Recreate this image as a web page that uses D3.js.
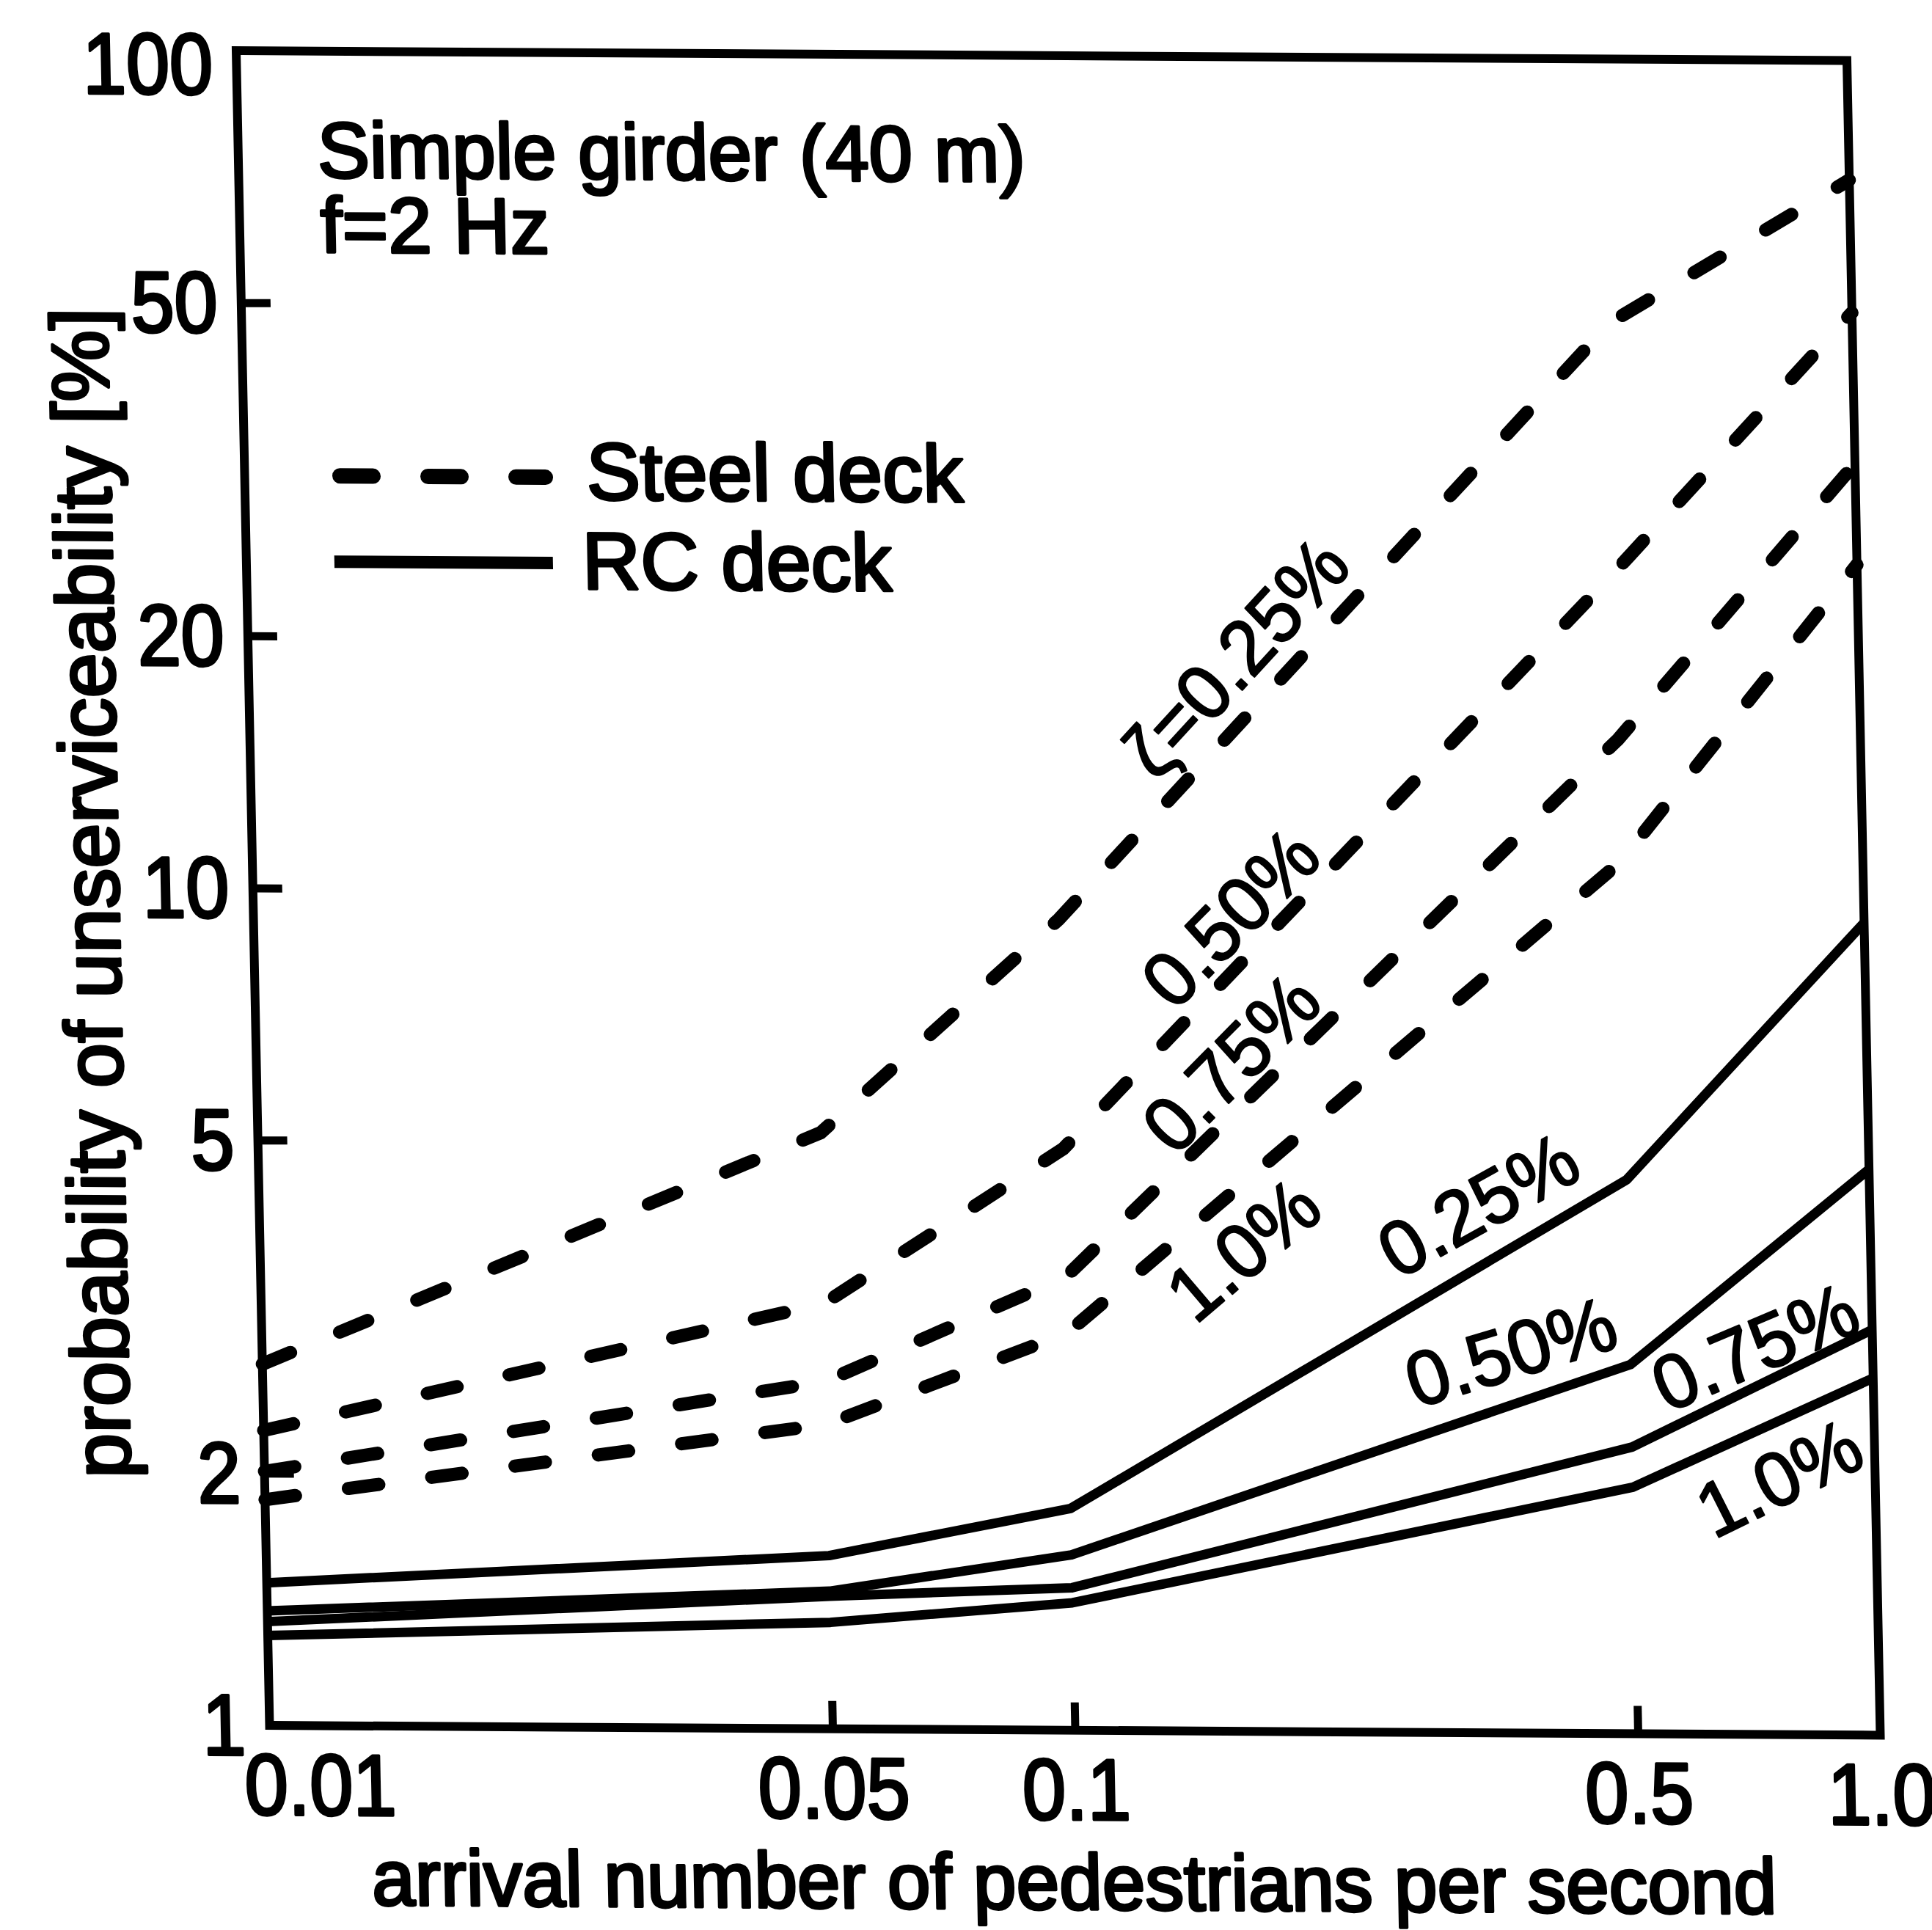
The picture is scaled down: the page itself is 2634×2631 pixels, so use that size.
<!DOCTYPE html>
<html>
<head>
<meta charset="utf-8">
<script src="https://cdn.jsdelivr.net/npm/d3@7"></script>
<style>
  html, body { margin: 0; padding: 0; background: #fff; }
  svg { display: block; }
  text { font-family: "Liberation Sans", Arial, Helvetica, sans-serif; fill: #000; }
</style>
</head>
<body>
<svg id="chart" width="2634" height="2631"></svg>
<script>
// Arrival rates (pedestrians per second) at which every curve is evaluated
const arrivalRates = [0.01, 0.05, 0.1, 0.5, 1.0];

// Probability of unserviceability [%] — steel deck, per damping ratio
const steel025 = [2.70, 5.15, 9.3, 48.4, 72];
const steel050 = [2.25, 3.22, 4.95, 24.4, 50];
const steel075 = [2.01, 2.60, 3.48, 15.4, 33];
const steel100 = [1.86, 2.31, 2.98, 11.0, 25];

// Probability of unserviceability [%] — RC deck, per damping ratio
const rc025 = [1.48, 1.61, 1.84, 4.59, 9.34];
const rc050 = [1.37, 1.46, 1.62, 2.76, 4.74];
const rc075 = [1.33, 1.44, 1.48, 2.20, 3.05];
const rc100 = [1.28, 1.34, 1.42, 1.97, 2.67];

// Axis ticks
const xTicks = [0.01, 0.05, 0.1, 0.5, 1.0];
const xTickLabels = ["0.01", "0.05", "0.1", "0.5", "1.0"];
const yTicks = [1, 2, 5, 10, 20, 50, 100];
const yTickLabels = ["1", "2", "5", "10", "20", "50", "100"];

// Curve names
const steelNames = ["\u03B6=0.25%", "0.50%", "0.75%", "1.0%"];
const rcNames = ["0.25%", "0.50%", "0.75%", "1.0%"];

// ---------------------------------------------------------------------------
const W = 2196, H = 2283;
const svg = d3.select("#chart");

// plot-local frame; the printed figure sits slightly sheared on the page
const g = svg.append("g")
  .attr("transform", "matrix(1,0.00615,0.01993,1,322,69)");

const x = d3.scaleLog().domain([0.01, 1]).range([0, W]);
const y = d3.scaleLog().domain([1, 100]).range([H, 0]);

const line = d3.line()
  .x(d => x(d[0]))
  .y(d => y(d[1]))
  .curve(d3.curveLinear);

const pairs = vals => arrivalRates.map((r, i) => [r, vals[i]]);

const steelSeries = [steel025, steel050, steel075, steel100];
const rcSeries = [rc025, rc050, rc075, rc100];

// RC deck curves (solid)
g.append("g").selectAll("path")
  .data(rcSeries)
  .join("path")
  .attr("d", d => line(pairs(d)))
  .attr("fill", "none")
  .attr("stroke", "#000")
  .attr("stroke-width", 13)
  .attr("stroke-linejoin", "round");

// Steel deck curves (dashed)
g.append("g").selectAll("path")
  .data(steelSeries)
  .join("path")
  .attr("d", d => line(pairs(d)))
  .attr("fill", "none")
  .attr("stroke", "#000")
  .attr("stroke-width", 18)
  .attr("stroke-linecap", "round")
  .attr("stroke-dasharray", "42 73");

// Frame
g.append("rect")
  .attr("x", 0).attr("y", 0)
  .attr("width", W).attr("height", H)
  .attr("fill", "none")
  .attr("stroke", "#000")
  .attr("stroke-width", 12);

// Axes: inward ticks, labels below / left
const tickFont = 118;
const xAxis = d3.axisBottom(x)
  .tickValues(xTicks)
  .tickSizeInner(-38)
  .tickSizeOuter(0)
  .tickPadding(38)
  .tickFormat((d, i) => xTickLabels[i]);

const gx = g.append("g")
  .attr("transform", `translate(0,${H})`)
  .call(xAxis);

const yAxis = d3.axisLeft(y)
  .tickValues(yTicks)
  .tickSizeInner(-40)
  .tickSizeOuter(0)
  .tickPadding(36)
  .tickFormat((d, i) => yTickLabels[i]);

const gy = g.append("g").call(yAxis);

[gx, gy].forEach(ax => {
  ax.select(".domain").remove();
  ax.selectAll(".tick line")
    .attr("stroke", "#000")
    .attr("stroke-width", 11);
  ax.selectAll(".tick text")
    .attr("font-size", tickFont)
    .attr("font-family", "Liberation Sans, Arial, sans-serif")
    .attr("fill", "#000")
    .attr("stroke", "#000")
    .attr("stroke-width", 4)
    .attr("stroke-linejoin", "round")
    .attr("transform", "scale(0.9,1)");
});
// corner ticks coincide with the frame
gx.selectAll(".tick").filter(d => d === 0.01 || d === 1).select("line").remove();
gy.selectAll(".tick").filter(d => d === 1 || d === 100).select("line").remove();
// first x label sits flush with the corner
gx.selectAll(".tick").filter(d => d === 0.01).select("text")
  .attr("text-anchor", "start")
  .attr("x", -40);
gy.selectAll(".tick text").attr("dy", "0.34em");
// top label hangs just below the frame corner
gy.selectAll(".tick").filter(d => d === 100).select("text").attr("dy", "0.5em");

// Axis titles
const bodyFont = 107;
const textStroke = 4;
g.append("text")
  .attr("x", W / 2 - 5)
  .attr("y", H + 244)
  .attr("text-anchor", "middle")
  .attr("font-size", bodyFont)
  .attr("stroke", "#000").attr("stroke-width", textStroke).attr("stroke-linejoin", "round")
  .attr("textLength", 1915)
  .attr("lengthAdjust", "spacingAndGlyphs")
  .text("arrival number of pedestrians per second");

g.append("text")
  .attr("transform", `translate(-183,${H / 2 + 8}) rotate(-90)`)
  .attr("text-anchor", "middle")
  .attr("font-size", 110)
  .attr("stroke", "#000").attr("stroke-width", textStroke).attr("stroke-linejoin", "round")
  .text("probability of unserviceability [%]");

// Case description
g.append("text")
  .attr("x", 108).attr("y", 172)
  .attr("font-size", bodyFont)
  .attr("stroke", "#000").attr("stroke-width", textStroke).attr("stroke-linejoin", "round")
  .attr("textLength", 965)
  .attr("lengthAdjust", "spacingAndGlyphs")
  .text("Simple girder (40 m)");
g.append("text")
  .attr("x", 110).attr("y", 274)
  .attr("font-size", bodyFont)
  .attr("stroke", "#000").attr("stroke-width", textStroke).attr("stroke-linejoin", "round")
  .text("f=2 Hz");

// Legend
const legend = g.append("g");
legend.append("line")
  .attr("x1", 130).attr("x2", 410)
  .attr("y1", 579).attr("y2", 579)
  .attr("stroke", "#000")
  .attr("stroke-width", 21)
  .attr("stroke-linecap", "round")
  .attr("stroke-dasharray", "45 75");
legend.append("line")
  .attr("x1", 120).attr("x2", 418)
  .attr("y1", 696).attr("y2", 696)
  .attr("stroke", "#000")
  .attr("stroke-width", 17);
legend.append("text")
  .attr("x", 466).attr("y", 609)
  .attr("font-size", 110)
  .attr("stroke", "#000").attr("stroke-width", textStroke).attr("stroke-linejoin", "round")
  .text("Steel deck");
legend.append("text")
  .attr("x", 458).attr("y", 731)
  .attr("font-size", 110)
  .attr("stroke", "#000").attr("stroke-width", textStroke).attr("stroke-linejoin", "round")
  .text("RC deck");

// Curve annotations, placed along each curve (data coordinates + text angle)
const labelPlacement = [
  { text: steelNames[0], at: [0.168, 19.2], angle: -47 },
  { text: steelNames[1], at: [0.163, 9.39], angle: -45 },
  { text: steelNames[2], at: [0.162, 6.30], angle: -45 },
  { text: steelNames[3], at: [0.166, 3.77], angle: -40 },
  { text: rcNames[0], at: [0.326, 4.28], angle: -29 },
  { text: rcNames[1], at: [0.355, 2.86], angle: -17 },
  { text: rcNames[2], at: [0.714, 2.91], angle: -23 },
  { text: rcNames[3], at: [0.759, 2.03], angle: -26 }
];

g.append("g").selectAll("text")
  .data(labelPlacement)
  .join("text")
  .attr("transform", d => `translate(${x(d.at[0])},${y(d.at[1])}) rotate(${d.angle})`)
  .attr("text-anchor", "middle")
  .attr("dy", "0.36em")
  .attr("font-size", 104)
  .attr("stroke", "#000").attr("stroke-width", 2.5).attr("stroke-linejoin", "round")
  .text(d => d.text);
</script>
</body>
</html>
